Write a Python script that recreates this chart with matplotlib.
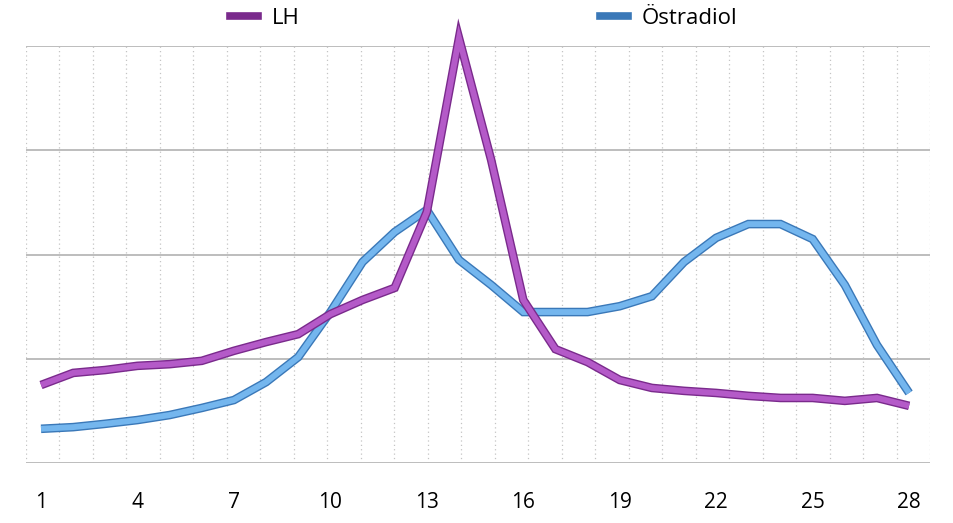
import matplotlib
matplotlib.use("Agg")
import matplotlib.pyplot as plt
import matplotlib.patheffects as pe
import numpy as np

plt.rcParams["font.family"] = ["Open Sans", "DejaVu Sans"]

days = list(range(1, 29))
lh = [18.7, 21.6, 22.3, 23.3, 23.7, 24.5, 26.9, 29.0, 30.9, 35.7,
      39.1, 42.0, 60.2, 101.9, 72.7, 39.1, 27.3, 24.2, 19.9, 18.0,
      17.3, 16.8, 16.1, 15.6, 15.6, 14.9, 15.6, 13.7]
oestradiol = [8.2, 8.6, 9.4, 10.3, 11.5, 13.2, 15.1, 19.4, 25.4, 36.2,
              48.2, 55.4, 60.7, 48.7, 42.7, 36.2, 36.2, 36.2, 37.6, 40.0,
              48.2, 54.0, 57.3, 57.3, 53.7, 42.7, 28.3, 16.8]
xtick_days = [1, 4, 7, 10, 13, 16, 19, 22, 25, 28]
levels = [0, 25, 50, 75, 100]

LH_DARK = "#7A2A8C"
LH_LIGHT = "#B45AC8"
OE_DARK = "#3A78B8"
OE_LIGHT = "#74B6EE"

fig = plt.figure(figsize=(9.54, 5.23), dpi=100)
ax = fig.add_axes([26 / 954, 1 - 463 / 523, (930 - 26) / 954, (463 - 46) / 523])

x0, x1 = 0.533, 28.65
ax.set_xlim(x0, x1)
ax.set_ylim(0, 100)

# dotted vertical grid (one per day slot)
for gx in np.linspace(x0, x1, 28):
    ax.axvline(gx, color="#C4C4C4", linestyle=(0, (1, 2.5)), linewidth=0.9, zorder=0)
# solid horizontal grid
for lv in levels:
    ax.axhline(lv, color="#BDBDBD", linewidth=1.4, zorder=1)

# tube-like lines: dark body with a lighter core
ax.plot(days, oestradiol, color=OE_LIGHT, linewidth=4.2, solid_capstyle="butt",
        solid_joinstyle="miter", clip_on=False, zorder=3,
        path_effects=[pe.Stroke(linewidth=6.2, foreground=OE_DARK), pe.Normal()])
ax.plot(days, lh, color=LH_LIGHT, linewidth=4.2, solid_capstyle="butt",
        solid_joinstyle="miter", clip_on=False, zorder=4,
        path_effects=[pe.Stroke(linewidth=6.2, foreground=LH_DARK), pe.Normal()])

ax.set_xticks(xtick_days)
ax.set_xticklabels([str(d) for d in xtick_days], fontsize=15)
ax.set_yticks([])
ax.tick_params(axis="x", length=0, pad=21)
for s in ax.spines.values():
    s.set_visible(False)

# legend
h1, = ax.plot([], [], color=LH_DARK, linewidth=5.5)
h2, = ax.plot([], [], color=OE_DARK, linewidth=5.5)
fig.legend([h1, h2], ["LH", "Östradiol"], loc="center left",
           bbox_to_anchor=(230 / 954, 1 - 18 / 523), ncol=2, frameon=False,
           fontsize=16, handlelength=1.26, handletextpad=0.63,
           columnspacing=13.5, borderpad=0, borderaxespad=0)

fig.savefig("out.png", dpi=100)
plt.close(fig)
